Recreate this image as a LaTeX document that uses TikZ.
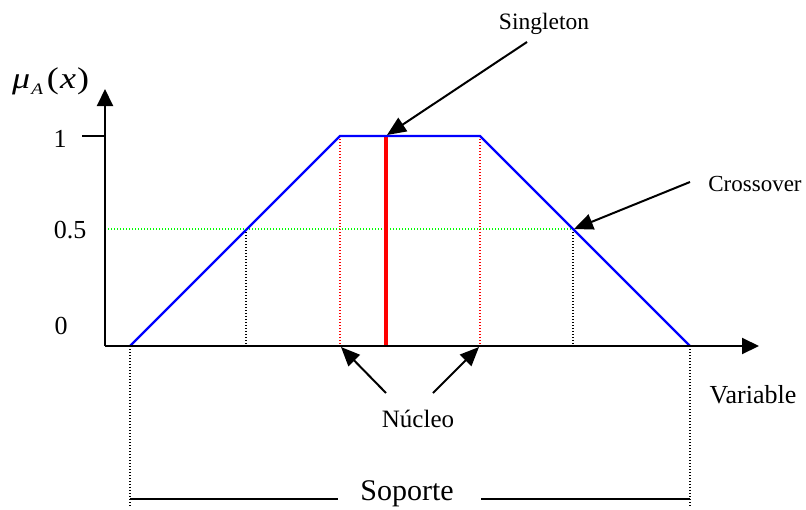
\documentclass[tikz,border=0pt]{standalone}
\usepackage{fontspec}
\setmainfont{Liberation Serif}
\usetikzlibrary{arrows.meta}
\begin{document}
\begin{tikzpicture}[x=1pt,y=-1pt,
  axis/.style={line width=2pt,-{Triangle[length=17pt,width=16pt]}},
  pointer/.style={line width=2pt,-{Triangle[length=19pt,width=16pt]}},
  mf/.style={blue,line width=2.4pt,line join=miter},
  guide/.style={line width=1.2pt,dash pattern=on 1.2pt off 1.8pt},
  lbl/.style={inner sep=0pt,anchor=base},
  fs/.style={font=\fontsize{#1}{#1}\selectfont}]
\useasboundingbox (0,0) rectangle (806,509);
% key coordinates
\coordinate (O) at (105,346);
\coordinate (ytop) at (105,89);
\coordinate (xend) at (759,346);
\coordinate (t1) at (82,136);
\coordinate (y1) at (105,136);
\coordinate (yh) at (105,229);
\coordinate (a) at (130,346);
\coordinate (b) at (340,136);
\coordinate (c) at (480,136);
\coordinate (d) at (690,346);
\coordinate (cl) at (246,229);
\coordinate (cr) at (573,229);
\coordinate (clb) at (246,346);
\coordinate (crb) at (573,346);
\coordinate (bb) at (340,346);
\coordinate (cb) at (480,346);
\coordinate (st) at (386,136);
\coordinate (sb) at (386,346);
\coordinate (ab) at (130,507);
\coordinate (db) at (690,507);
\coordinate (s1) at (130,499);
\coordinate (s2) at (338,499);
\coordinate (s3) at (481,499);
\coordinate (s4) at (690,499);
% guides
\draw[guide,green] (yh) -- (cr);
\draw[guide] (cl) -- (clb);
\draw[guide] (cr) -- (crb);
\draw[guide,red] (b) -- (bb);
\draw[guide,red] (c) -- (cb);
\draw[guide] (a) -- (ab);
\draw[guide] (d) -- (db);
% singleton
\draw[red,line width=4.5pt] (st) -- (sb);
% membership function
\draw[mf] (a) -- (b) -- (c) -- (d);
% axes
\draw[axis] (O) -- (ytop);
\draw[axis] (O) -- (xend);
\draw[line width=2pt] (t1) -- (y1);
% axis labels
\node[lbl,fs=26] (l1) at (60,147) {1};
\node[lbl,fs=26] (l05) at (70,238) {0.5};
\node[lbl,fs=26] (l0) at (61,334) {0};
\node[inner sep=0pt,anchor=base west,fs=30] (mu) at (12,88) {\scalebox{1.2}[1]{\textit{μ}\kern1pt\raisebox{-0.22em}{\fontsize{16}{16}\selectfont\textit{A}}\kern3pt(\kern1pt\textit{x}\kern1pt)}};
\node[lbl,fs=26] (var) at (753,403) {Variable};
% annotations
\node[lbl,fs=23.5] (sing) at (544,29) {Singleton};
\node[lbl,fs=23] (cross) at (755,191) {Crossover};
\node[lbl,fs=25] (nuc) at (418,427) {Núcleo};
\node[lbl,fs=30] (sop) at (407,500) {Soporte};
\coordinate (sgs) at (527,42);
\coordinate (sgt) at (387,135);
\coordinate (crs) at (690,182);
\coordinate (crt) at (574,229);
\coordinate (n1s) at (386,393);
\coordinate (n1t) at (341,347);
\coordinate (n2s) at (433,393);
\coordinate (n2t) at (479,347);
\draw[pointer] (sgs) -- (sgt);
\draw[pointer] (crs) -- (crt);
\draw[pointer] (n1s) -- (n1t);
\draw[pointer] (n2s) -- (n2t);
% support bracket
\draw[line width=2pt] (s1) -- (s2);
\draw[line width=2pt] (s3) -- (s4);
\end{tikzpicture}
\end{document}
